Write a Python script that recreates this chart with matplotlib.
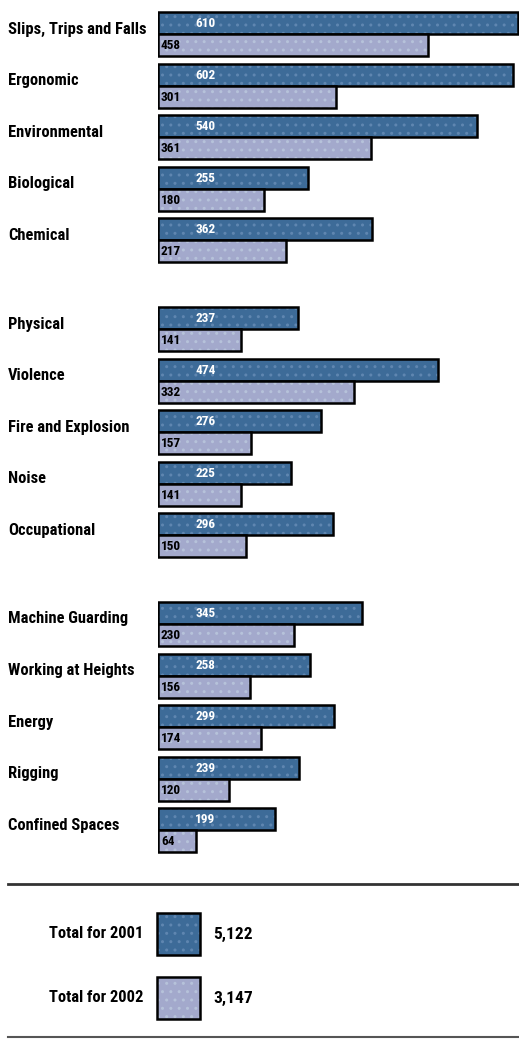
import matplotlib.pyplot as plt
from matplotlib import font_manager
from matplotlib.patches import Rectangle

# data
sections = [
    ["Slips, Trips and Falls", "Ergonomic", "Environmental", "Biological", "Chemical"],
    ["Physical", "Violence", "Fire and Explosion", "Noise", "Occupational"],
    ["Machine Guarding", "Working at Heights", "Energy", "Rigging", "Confined Spaces"],
]
vals_2001 = [610, 602, 540, 255, 362,
             237, 474, 276, 225, 296,
             345, 258, 299, 239, 199]
vals_2002 = [458, 301, 361, 180, 217,
             141, 332, 157, 141, 150,
             230, 156, 174, 120, 64]
years = ["2001", "2002"]
totals = [5122, 3147]

c01 = "#3d6b98"
c02 = "#a3a9cc"
dot01 = "#5f86b0"
dot02 = "#b6c2da"

# pick a narrow font if one is installed
names = {f.name for f in font_manager.fontManager.ttflist}
narrow = [n for n in ["Liberation Sans Narrow", "DejaVu Sans Condensed",
                      "Roboto Condensed", "Open Sans Condensed"] if n in names]
FONT = narrow[:1] + ["DejaVu Sans"]
STRETCH = "condensed"

W, H = 519, 1039
fig = plt.figure(figsize=(W / 100, H / 100), dpi=100)

# bars axes: x in data units, y in pixels
ax = fig.add_axes([158 / W, 0, 361 / W, 1])
ax.set_xlim(0, 612)
ax.set_ylim(H, 0)
ax.axis("off")

labels = [name for sec in sections for name in sec]
tops = []
for s, sec in enumerate(sections):
    for j in range(len(sec)):
        tops.append(12 + s * 295 + j * 51.6)


def dotted_bar(y, v, fc, dc):
    ax.barh(y, v, height=bh, color=fc, linewidth=0)
    ax.barh(y, v, height=bh, fill=False, hatch="..", edgecolor=dc, linewidth=0)
    ax.barh(y, v, height=bh, fill=False, edgecolor="black", linewidth=1.8)


bh = 22
for i, name in enumerate(labels):
    t = tops[i]
    dotted_bar(t + bh / 2, vals_2001[i], c01, dot01)
    dotted_bar(t + bh * 1.5, vals_2002[i], c02, dot02)
    ax.text(63, t + bh / 2 + 0.5, str(vals_2001[i]), color="white",
            fontsize=9.5, fontweight="bold", family=FONT, fontstretch=STRETCH,
            va="center", ha="left")
    ax.text(5, t + bh * 1.5 + 0.5, str(vals_2002[i]), color="black",
            fontsize=9.5, fontweight="bold", family=FONT, fontstretch=STRETCH,
            va="center", ha="left")

# overlay axes in pixel coordinates for labels and legend
ov = fig.add_axes([0, 0, 1, 1])
ov.set_xlim(0, W)
ov.set_ylim(H, 0)
ov.axis("off")

for i, name in enumerate(labels):
    ov.text(8, tops[i] + 17, name, fontsize=10.5, fontweight="bold",
            family=FONT, fontstretch=STRETCH, va="center", ha="left",
            color="black")

# size labels so the longest one ends just before the bars
fig.canvas.draw()
r = fig.canvas.get_renderer()
widest = max(t.get_window_extent(r).width for t in ov.texts)
size = min(10.5 * 139 / widest, 13)
for t in ov.texts:
    t.set_fontsize(size)

ov.plot([8, W], [884, 884], color="#333333", lw=2)
ov.plot([8, W], [1037, 1037], color="#555555", lw=1.5)

for k, (yr, tot, fc, dc) in enumerate(zip(years, totals, [c01, c02], [dot01, dot02])):
    cy = 934 + k * 64
    ov.text(143, cy, "Total for " + yr, fontsize=size, fontweight="bold",
            family=FONT, fontstretch=STRETCH, va="center", ha="right")
    ov.add_patch(Rectangle((157, cy - 21), 43, 42, facecolor=fc, lw=0))
    ov.add_patch(Rectangle((157, cy - 21), 43, 42, fill=False, hatch="..",
                           edgecolor=dc, lw=0))
    ov.add_patch(Rectangle((157, cy - 21), 43, 42, fill=False,
                           edgecolor="black", lw=1.8))
    ov.text(213, cy, f"{tot:,}", fontsize=12.5, fontweight="bold",
            family=FONT, fontstretch=STRETCH, va="center", ha="left")

fig.savefig("out.png", dpi=100)
